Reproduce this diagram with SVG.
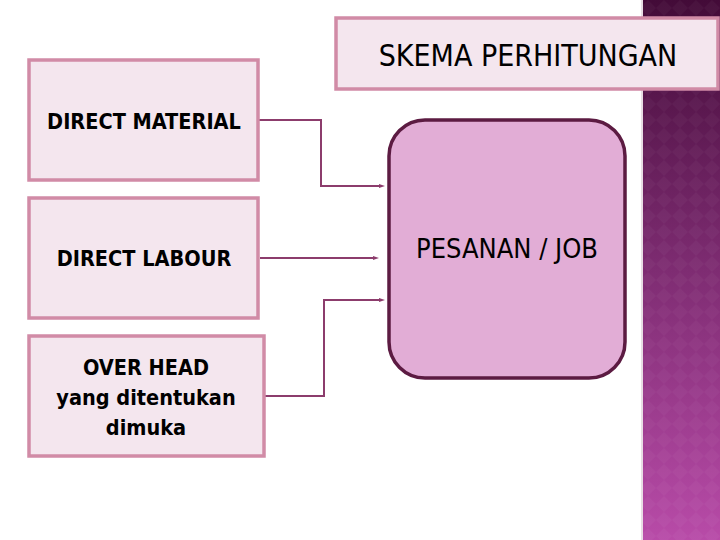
<svg xmlns="http://www.w3.org/2000/svg" width="720" height="540" viewBox="0 0 720 540">
<style>
.box{fill:#f4e6ee;stroke:#d18ba6;stroke-width:3.5}
.lbl{font-family:"DejaVu Sans Condensed","DejaVu Sans",sans-serif;font-weight:bold;font-size:21.5px;fill:#000;text-anchor:middle}
.conn{fill:none;stroke:#8c3c6c;stroke-width:2}
</style>
<defs>
<linearGradient id="stripe" x1="0" y1="0" x2="0" y2="1">
<stop offset="0" stop-color="#430b38"/>
<stop offset="0.5" stop-color="#7e2c72"/>
<stop offset="1" stop-color="#b84ba8"/>
</linearGradient>
<pattern id="dia" width="16" height="16" patternUnits="userSpaceOnUse">
<path d="M8 0 L16 8 L8 16 L0 8 Z" fill="#ffffff" fill-opacity="0.03"/>
</pattern>
<marker id="dot" markerWidth="6" markerHeight="6" refX="3" refY="3" markerUnits="userSpaceOnUse">
<path d="M0 1 L6 3 L0 5 Z" fill="#8c3c6c"/>
</marker>
</defs>
<rect width="720" height="540" fill="#ffffff"/>
<g id="stripe-bg">
<rect x="643" y="0" width="77" height="540" fill="url(#stripe)"/>
<rect x="643" y="0" width="77" height="540" fill="url(#dia)"/>
<rect x="641" y="0" width="2" height="540" fill="#e8dde4"/>
</g>
<g id="connectors">
<path class="conn" d="M259 120 H321 V186 H382" marker-end="url(#dot)"/>
<path class="conn" d="M260 258 H376" marker-end="url(#dot)"/>
<path class="conn" d="M265 396 H324 V300 H382" marker-end="url(#dot)"/>
</g>
<g id="title">
<rect class="box" x="336" y="18" width="382" height="71"/>
<text x="528" y="66" font-family="'DejaVu Sans Condensed','DejaVu Sans',sans-serif" font-size="30" text-anchor="middle" fill="#000">SKEMA PERHITUNGAN</text>
</g>
<g id="direct-material">
<rect class="box" x="29" y="60" width="229" height="120"/>
<text class="lbl" x="144" y="129">DIRECT MATERIAL</text>
</g>
<g id="direct-labour">
<rect class="box" x="29" y="198" width="229" height="120"/>
<text class="lbl" x="144" y="266">DIRECT LABOUR</text>
</g>
<g id="overhead">
<rect class="box" x="29" y="336" width="235" height="120"/>
<text class="lbl" x="146" y="375">OVER HEAD</text>
<text class="lbl" x="146" y="405">yang ditentukan</text>
<text class="lbl" x="146" y="435">dimuka</text>
</g>
<g id="pesanan">
<rect x="389" y="120" width="236" height="258" rx="36" ry="36" fill="#e2add6" stroke="#5c1b42" stroke-width="3.5"/>
<text x="507" y="258" font-family="'DejaVu Sans Condensed','DejaVu Sans',sans-serif" font-size="27" text-anchor="middle" fill="#000">PESANAN / JOB</text>
</g>
</svg>
